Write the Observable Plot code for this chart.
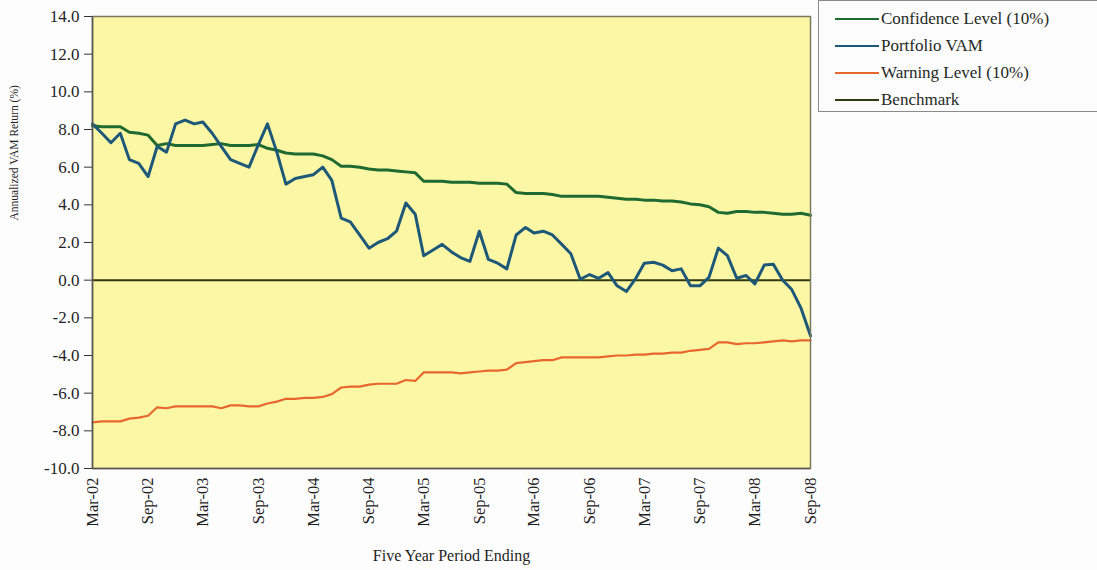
<!DOCTYPE html>
<html>
<head>
<meta charset="utf-8">
<script src="https://cdn.jsdelivr.net/npm/d3@7"></script>
<script src="https://cdn.jsdelivr.net/npm/@observablehq/plot@0.6"></script>
<style>
  html, body { margin: 0; padding: 0; background: #fdfdfd; width: 1097px; height: 570px; overflow: hidden; }
  #wrap { position: relative; width: 1097px; height: 570px; font-family: "Liberation Serif", "Times New Roman", serif; }
  #legend { position: absolute; left: 818px; top: 0px; width: 300px; height: 112px; box-sizing: border-box;
            border: 1.5px solid #8a8a8a; background: #fcfcfc; }
  .li { position: absolute; left: 16px; display: flex; align-items: center; font-size: 17px; color: #1f2a1f; }
  .li .sw { width: 44px; height: 0; border-top: 2.5px solid; margin-right: 2px; }
</style>
</head>
<body>
<div id="wrap"></div>
<script>
// Series values (monthly, five-year periods ending Mar-02 .. Sep-08)
const portfolioVAM = [8.3,7.8,7.3,7.8,6.4,6.2,5.5,7.1,6.8,8.3, 8.5,8.3,8.4,7.8,7.1,6.4,6.2,6.0,7.2,8.3, 6.8,5.1,5.4,5.5,5.6,6.0,5.3,3.3,3.1,2.4, 1.7,2.0,2.2,2.6,4.1,3.5,1.3,1.6,1.9,1.5, 1.2,1.0,2.6,1.1,0.9,0.6,2.4,2.8,2.5,2.6, 2.4,1.9,1.4,0.05,0.3,0.1,0.4,-0.3,-0.6,0.1, 0.9,0.95,0.8,0.5,0.6,-0.3,-0.3,0.15,1.7,1.3, 0.1,0.25,-0.2,0.8,0.85,0.0,-0.5,-1.5,-2.95];
const confidenceLevel = [8.2,8.15,8.15,8.15,7.85,7.8,7.7,7.15,7.25,7.15, 7.15,7.15,7.15,7.2,7.25,7.15,7.15,7.15,7.2,7.0, 6.9,6.75,6.7,6.7,6.7,6.6,6.4,6.05,6.05,6.0, 5.9,5.85,5.85,5.8,5.75,5.7,5.25,5.25,5.25,5.2, 5.2,5.2,5.15,5.15,5.15,5.1,4.65,4.6,4.6,4.6, 4.55,4.45,4.45,4.45,4.45,4.45,4.4,4.35,4.3,4.3, 4.25,4.25,4.2,4.2,4.15,4.05,4.0,3.9,3.6,3.55, 3.65,3.65,3.6,3.6,3.55,3.5,3.5,3.55,3.45];
const warningLevel = [-7.55,-7.5,-7.5,-7.5,-7.35,-7.3,-7.2,-6.75,-6.8,-6.7, -6.7,-6.7,-6.7,-6.7,-6.8,-6.65,-6.65,-6.7,-6.7,-6.55, -6.45,-6.3,-6.3,-6.25,-6.25,-6.2,-6.05,-5.7,-5.65,-5.65, -5.55,-5.5,-5.5,-5.5,-5.3,-5.35,-4.9,-4.9,-4.9,-4.9, -4.95,-4.9,-4.85,-4.8,-4.8,-4.75,-4.4,-4.35,-4.3,-4.25, -4.25,-4.1,-4.1,-4.1,-4.1,-4.1,-4.05,-4.0,-4.0,-3.95, -3.95,-3.9,-3.9,-3.85,-3.85,-3.75,-3.7,-3.65,-3.3,-3.3, -3.4,-3.35,-3.35,-3.3,-3.25,-3.2,-3.25,-3.2,-3.2];
const benchmark = 0;
const yTicks = [-10,-8,-6,-4,-2,0,2,4,6,8,10,12,14];
const seriesNames = ["Confidence Level (10%)", "Portfolio VAM", "Warning Level (10%)", "Benchmark"];
const seriesColors = ["#1f6a30", "#1e5878", "#e8672e", "#2e3a12"];

// Months (categories)
const months = d3.utcMonth.range(new Date(Date.UTC(2002, 2, 1)), new Date(Date.UTC(2008, 9, 1)));
const xTicks = months.filter(d => d.getUTCMonth() === 2 || d.getUTCMonth() === 8);

const rows = [];
months.forEach((m, i) => {
  rows.push({date: m, value: confidenceLevel[i], series: seriesNames[0]});
  rows.push({date: m, value: portfolioVAM[i], series: seriesNames[1]});
  rows.push({date: m, value: warningLevel[i], series: seriesNames[2]});
});
const bySeries = name => rows.filter(r => r.series === name);

const chart = Plot.plot({
  width: 1097,
  height: 570,
  marginLeft: 92,
  marginRight: 287,
  marginTop: 16,
  marginBottom: 102,
  style: {fontFamily: "'Liberation Serif', 'Times New Roman', serif", background: "transparent", color: "#1f1f1f"},
  x: {type: "utc", domain: [months[0], months[months.length - 1]]},
  y: {domain: [-10, 14]},
  marks: [
    Plot.frame({fill: "#fcf7a4", stroke: null}),
    Plot.axisY({ticks: yTicks, tickFormat: d => d.toFixed(1), tickSize: 8, tickPadding: 5, fontSize: 17, stroke: "#333", label: null}),
    Plot.axisX({ticks: xTicks, tickFormat: d3.utcFormat("%b-%y"), tickRotate: -90, tickSize: 0, tickPadding: 9, fontSize: 16.5, label: null}),
    Plot.ruleY([benchmark], {stroke: seriesColors[3], strokeWidth: 2}),
    Plot.line(bySeries(seriesNames[2]), {x: "date", y: "value", stroke: seriesColors[2], strokeWidth: 2.2}),
    Plot.line(bySeries(seriesNames[0]), {x: "date", y: "value", stroke: seriesColors[0], strokeWidth: 3}),
    Plot.line(bySeries(seriesNames[1]), {x: "date", y: "value", stroke: seriesColors[1], strokeWidth: 3}),
    Plot.frame({stroke: "#7a7a60", strokeWidth: 1.5}),
    Plot.ruleX([months[0]], {stroke: "#555", strokeWidth: 1.5}),
    Plot.ruleY([-10], {stroke: "#555", strokeWidth: 1.5}),
    Plot.text(["Five Year Period Ending"], {frameAnchor: "bottom", dy: 92, fontSize: 16, fill: "#1f1f1f"}),
    Plot.text(["Annualized VAM Return (%)"], {frameAnchor: "left", dx: -78, dy: -22, rotate: -90, fontSize: 11.5, fill: "#1f1f1f"})
  ]
});

const wrap = document.getElementById("wrap");
wrap.appendChild(chart);

const legend = document.createElement("div");
legend.id = "legend";
const tops = [8, 35, 62, 89];
seriesNames.forEach((name, i) => {
  const item = document.createElement("div");
  item.className = "li";
  item.style.top = tops[i] + "px";
  const sw = document.createElement("span");
  sw.className = "sw";
  sw.style.borderColor = seriesColors[i];
  const t = document.createElement("span");
  t.textContent = name;
  item.appendChild(sw);
  item.appendChild(t);
  legend.appendChild(item);
});
wrap.appendChild(legend);
</script>
</body>
</html>
